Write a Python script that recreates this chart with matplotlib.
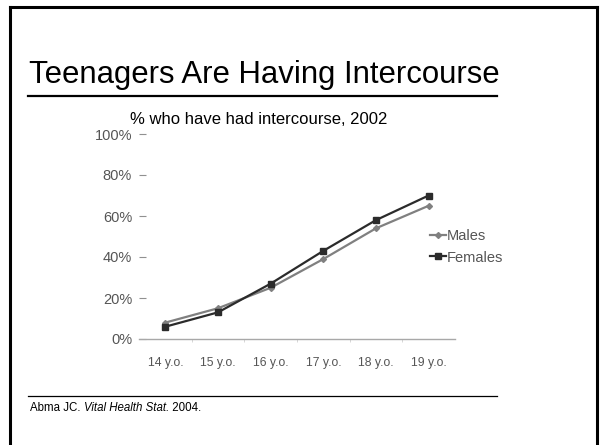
import matplotlib.pyplot as plt
from matplotlib.lines import Line2D

plt.rcParams['font.family'] = ['Liberation Sans', 'DejaVu Sans']

ages = ['14 y.o.', '15 y.o.', '16 y.o.', '17 y.o.', '18 y.o.', '19 y.o.']
males = [8, 15, 25, 39, 54, 65]
females = [6, 13, 27, 43, 58, 70]
y_ticks = [0, 20, 40, 60, 80, 100]

W, H = 600, 445
fig = plt.figure(figsize=(W / 100, H / 100), dpi=100)


def fx(px):
    return px / W


def fy(py):
    return 1 - py / H


# slide frame
fig.add_artist(Line2D([fx(10), fx(10)], [fy(7), 0], color='black', lw=2.2))
fig.add_artist(Line2D([fx(597), fx(597)], [fy(7), 0], color='black', lw=2.2))
fig.add_artist(Line2D([fx(10), fx(597)], [fy(7), fy(7)], color='black', lw=2.2))

# title + rules
fig.text(fx(29), fy(75), 'Teenagers Are Having Intercourse', fontsize=22.4,
         va='center', ha='left', color='black')
fig.add_artist(Line2D([fx(28), fx(497)], [fy(96), fy(96)], color='black', lw=1.6))
fig.add_artist(Line2D([fx(28), fx(497)], [fy(396), fy(396)], color='black', lw=0.9))

# citation, italic journal name
x0 = fx(30)
parts = [('Abma JC. ', 'normal'), ('Vital Health Stat.', 'italic'), (' 2004.', 'normal')]
renderer = fig.canvas.get_renderer()
for s, st in parts:
    t = fig.text(x0, fy(408), s, fontsize=8.3, style=st, va='center', ha='left')
    x0 += t.get_window_extent(renderer=renderer).width / W

fig.text(fx(130), fy(120), '% who have had intercourse, 2002', fontsize=12,
         va='center', ha='left', color='black')

# chart
ax = fig.add_axes([fx(139), fy(339), fx(455) - fx(139), (339 - 134) / H])
x = range(len(ages))
ax.plot(x, males, color='#808080', lw=1.6, marker='D', ms=3, label='Males')
ax.plot(x, females, color='#2b2b2b', lw=1.6, marker='s', ms=4, label='Females')

ax.set_xlim(-0.5, len(ages) - 0.5)
ax.set_ylim(0, 100)
ax.set_yticks(y_ticks)
ax.set_yticklabels([f'{v}%' for v in y_ticks])
ax.set_xticks(list(x))
ax.set_xticklabels(ages)
ax.set_xticks([i + 0.5 for i in range(len(ages) - 1)], minor=True)

for s in ['top', 'right', 'left']:
    ax.spines[s].set_visible(False)
ax.spines['bottom'].set_color('#a8a8a8')
ax.spines['bottom'].set_linewidth(1.0)

ax.tick_params(axis='y', direction='in', length=5, width=0.8, color='#909090',
               labelsize=10.5, labelcolor='#555555', pad=5)
ax.tick_params(axis='x', which='major', length=0, labelsize=8.8,
               labelcolor='#555555', pad=13)
ax.tick_params(axis='x', which='minor', length=2, color='#d0d0d0')

leg = fig.legend(loc='upper left', bbox_to_anchor=(fx(423), fy(222)),
                 frameon=False, fontsize=10.5, handlelength=1.1,
                 handletextpad=0.05, labelspacing=0.5, borderpad=0,
                 labelcolor='#555555')

fig.savefig('out.png', dpi=100)
